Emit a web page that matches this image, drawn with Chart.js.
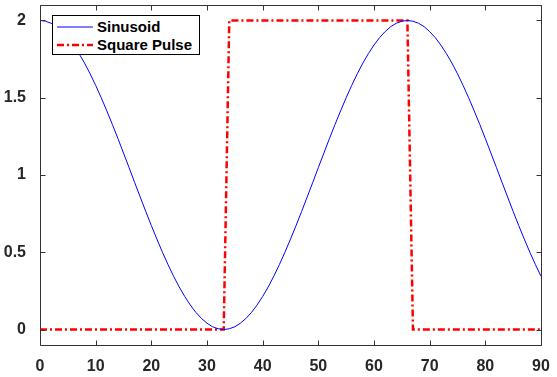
<!DOCTYPE html>
<html>
<head>
<meta charset="utf-8">
<script src="https://cdn.jsdelivr.net/npm/chart.js@4/dist/chart.umd.min.js"></script>
<style>
  html, body { margin: 0; padding: 0; background: #fff; }
  #wrap { position: relative; width: 557px; height: 377px; }
  #legend { position: absolute; left: 52px; top: 15px; width: 146px; height: 38px;
    border: 1px solid #000; background: #fff; font: bold 15px "Liberation Sans", Arial, sans-serif; color: #000; }
  .row { position: absolute; left: 0; height: 18px; line-height: 18px; white-space: nowrap; }
  .row svg { position: absolute; left: 4px; top: 0; }
  .row span { position: absolute; left: 44px; top: 0; }
</style>
</head>
<body>
<div id="wrap">
  <canvas id="c" width="557" height="377"></canvas>
  <div id="legend"></div>
</div>
<script>
// ---- data ----
const xValues = [0,1,2,3,4,5,6,7,8,9,10,11,12,13,14,15,16,17,18,19,20,21,22,23,24,25,26,27,28,29,30,
  31,32,33,34,35,36,37,38,39,40,41,42,43,44,45,46,47,48,49,50,51,52,53,54,55,56,57,58,59,60,
  61,62,63,64,65,66,67,68,69,70,71,72,73,74,75,76,77,78,79,80,81,82,83,84,85,86,87,88,89,90];
const sinusoid = [2.000,1.995,1.982,1.960,1.928,1.889,1.841,1.786,1.724,1.655,1.580,1.500,1.415,1.327,1.236,1.142,1.048,
  0.952,0.858,0.764,0.673,0.585,0.500,0.420,0.345,0.276,0.214,0.159,0.111,0.072,0.041,0.018,0.005,0.000,
  0.005,0.018,0.041,0.072,0.111,0.159,0.214,0.276,0.345,0.420,0.500,0.585,0.673,0.764,0.858,0.952,1.048,
  1.142,1.236,1.327,1.415,1.500,1.580,1.655,1.724,1.786,1.841,1.889,1.928,1.960,1.982,1.995,2.000,
  1.995,1.982,1.960,1.928,1.889,1.841,1.786,1.724,1.655,1.580,1.500,1.415,1.327,1.236,1.142,1.048,
  0.952,0.858,0.764,0.673,0.585,0.500,0.420,0.345];
const squarePulse = [0,0,0,0,0,0,0,0,0,0,0,0,0,0,0,0,0,0,0,0,0,0,0,0,0,0,0,0,0,0,0,0,0,0,
  2,2,2,2,2,2,2,2,2,2,2,2,2,2,2,2,2,2,2,2,2,2,2,2,2,2,2,2,2,2,2,2,2,
  0,0,0,0,0,0,0,0,0,0,0,0,0,0,0,0,0,0,0,0,0,0,0,0,0];
const seriesLabels = ["Sinusoid", "Square Pulse"];
const xTicks = [0,10,20,30,40,50,60,70,80,90];
const yTicks = [0,0.5,1,1.5,2];
const yTickLabels = ["0","0.5","1","1.5","2"];

const toPts = arr => arr.map((v, i) => ({ x: xValues[i], y: v }));

const FONT = { family: '"Liberation Sans", Arial, sans-serif', size: 16, weight: 'bold' };
const AXIS = '#333333';

const boxTicks = {
  id: 'boxTicks',
  afterDatasetsDraw(chart) {
    const { ctx, chartArea: a, scales } = chart;
    ctx.save();
    ctx.strokeStyle = AXIS;
    ctx.lineWidth = 1;
    ctx.beginPath();
    const L = Math.round(a.left) + 0.5, R = Math.round(a.right) + 0.5,
          T = Math.round(a.top) + 0.5, B = Math.round(a.bottom) + 0.5;
    ctx.rect(L, T, R - L, B - T);
    const tl = 5;
    xTicks.forEach(v => {
      const px = Math.round(scales.x.getPixelForValue(v)) + 0.5;
      ctx.moveTo(px, B); ctx.lineTo(px, B - tl);
      ctx.moveTo(px, T); ctx.lineTo(px, T + tl);
    });
    yTicks.forEach(v => {
      const py = Math.round(scales.y.getPixelForValue(v)) + 0.5;
      ctx.moveTo(L, py); ctx.lineTo(L + tl, py);
      ctx.moveTo(R, py); ctx.lineTo(R - tl, py);
    });
    ctx.stroke();
    ctx.restore();
  }
};

const chart = new Chart(document.getElementById('c'), {
  type: 'line',
  data: {
    datasets: [
      { label: seriesLabels[0], data: toPts(sinusoid), borderColor: '#0000ff', borderWidth: 1,
        pointRadius: 0, tension: 0, fill: false },
      { label: seriesLabels[1], data: toPts(squarePulse), borderColor: '#ff0000', borderWidth: 2.5,
        borderDash: [7, 3, 2, 3], pointRadius: 0, tension: 0, fill: false }
    ]
  },
  options: {
    responsive: false,
    animation: false,
    layout: { padding: { left: 0, right: 16, top: 5, bottom: 0 } },
    plugins: { legend: { display: false }, tooltip: { enabled: false } },
    scales: {
      x: {
        type: 'linear', min: 0, max: 90,
        afterBuildTicks: s => { s.ticks = xTicks.map(v => ({ value: v })); },
        afterFit: s => { s.height = 32; s.paddingLeft = 0; s.paddingRight = 0; },
        grid: { display: false }, border: { display: false },
        ticks: { color: '#262626', font: FONT, padding: 4, maxRotation: 0, autoSkip: false }
      },
      y: {
        type: 'linear', min: -0.1, max: 2.1,
        afterBuildTicks: s => { s.ticks = yTicks.map(v => ({ value: v })); },
        afterFit: s => { s.width = 40; s.paddingTop = 0; s.paddingBottom = 0; },
        grid: { display: false }, border: { display: false },
        ticks: { color: '#262626', font: FONT, padding: 6, autoSkip: false,
          callback: (v) => { const i = yTicks.indexOf(v); return i >= 0 ? yTickLabels[i] : ''; } }
      }
    }
  },
  plugins: [boxTicks]
});

// HTML legend built from the datasets
const leg = document.getElementById('legend');
chart.data.datasets.forEach((ds, i) => {
  const row = document.createElement('div');
  row.className = 'row';
  row.style.top = (2 + i * 18) + 'px';
  const dash = ds.borderDash ? ds.borderDash.join(' ') : '';
  row.innerHTML = '<svg width="36" height="18"><line x1="0" y1="9" x2="36" y2="9" stroke="' + ds.borderColor +
    '" stroke-width="' + (ds.borderWidth) + '"' + (dash ? ' stroke-dasharray="' + dash + '"' : '') + '/></svg>';
  const sp = document.createElement('span');
  sp.textContent = ds.label;
  row.appendChild(sp);
  leg.appendChild(row);
});
</script>
</body>
</html>
